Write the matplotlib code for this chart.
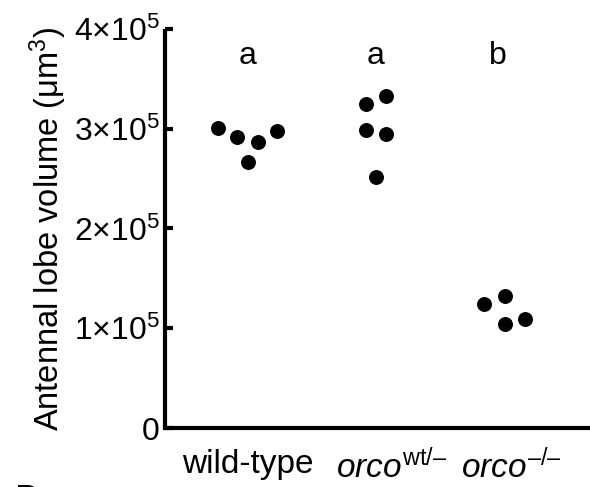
import matplotlib
matplotlib.use("Agg")
import matplotlib.pyplot as plt

plt.rcParams['font.family'] = ['Liberation Sans', 'DejaVu Sans']
plt.rcParams['mathtext.fontset'] = 'custom'
plt.rcParams['mathtext.rm'] = 'Liberation Sans'
plt.rcParams['mathtext.it'] = 'Liberation Sans:italic'

groups = ['wild-type', r'$\mathit{orco}^{\mathrm{wt/–}}$', r'$\mathit{orco}^{\mathrm{–/–}}$']
letters = ['a', 'a', 'b']

# antennal lobe volume, um^3
wild_type = [3.01e5, 2.92e5, 2.87e5, 2.98e5, 2.67e5]
orco_het = [3.25e5, 3.33e5, 2.99e5, 2.95e5, 2.52e5]
orco_mut = [1.24e5, 1.32e5, 1.04e5, 1.09e5]

# horizontal spread of the dots inside each column
spread = [
    [-0.233, -0.078, 0.078, 0.233, 0.0],
    [-0.078, 0.078, -0.078, 0.078, 0.0],
    [-0.156, 0.0, 0.0, 0.156],
]

yticks = [0, 1e5, 2e5, 3e5, 4e5]
yticklabels = ['0', r'$1{\times}10^5$', r'$2{\times}10^5$', r'$3{\times}10^5$', r'$4{\times}10^5$']

fig = plt.figure(figsize=(5.9, 4.87), dpi=100)
ax = fig.add_axes([165 / 590, 1 - 428 / 487, 1 - 165 / 590, (428 - 29) / 487])

for i, vals in enumerate([wild_type, orco_het, orco_mut]):
    xs = [i + d for d in spread[i]]
    ax.scatter(xs, vals, s=95, color='black', zorder=3, clip_on=False)

letter_x = [0, 1, 1.95]
for x, t in zip(letter_x, letters):
    ax.text(x, 3.73e5, t, ha='center', va='center', fontsize=23)

ax.set_xlim(-0.642, 2.665)
ax.set_ylim(0, 4e5)
# labels sit a little right of the dot columns, as in the figure
ax.set_xticks([0, 1.12, 2.05])
ax.set_xticklabels(groups, fontsize=24)
ax.set_yticks(yticks)
ax.set_yticklabels(yticklabels, fontsize=23)
ax.tick_params(axis='x', length=0, pad=15)
ax.tick_params(axis='y', direction='in', length=6, width=3, pad=4)
ax.set_ylabel('Antennal lobe volume (μm$^3$)', fontsize=23.5, labelpad=3)

for s in ['top', 'right']:
    ax.spines[s].set_visible(False)
for s in ['left', 'bottom']:
    ax.spines[s].set_linewidth(3)
ax.spines['left'].set_capstyle('butt')

fig.text(15 / 590, 1 - 484 / 487, 'B', fontsize=26, ha='left', va='top')

fig.savefig('out.png', dpi=100)
